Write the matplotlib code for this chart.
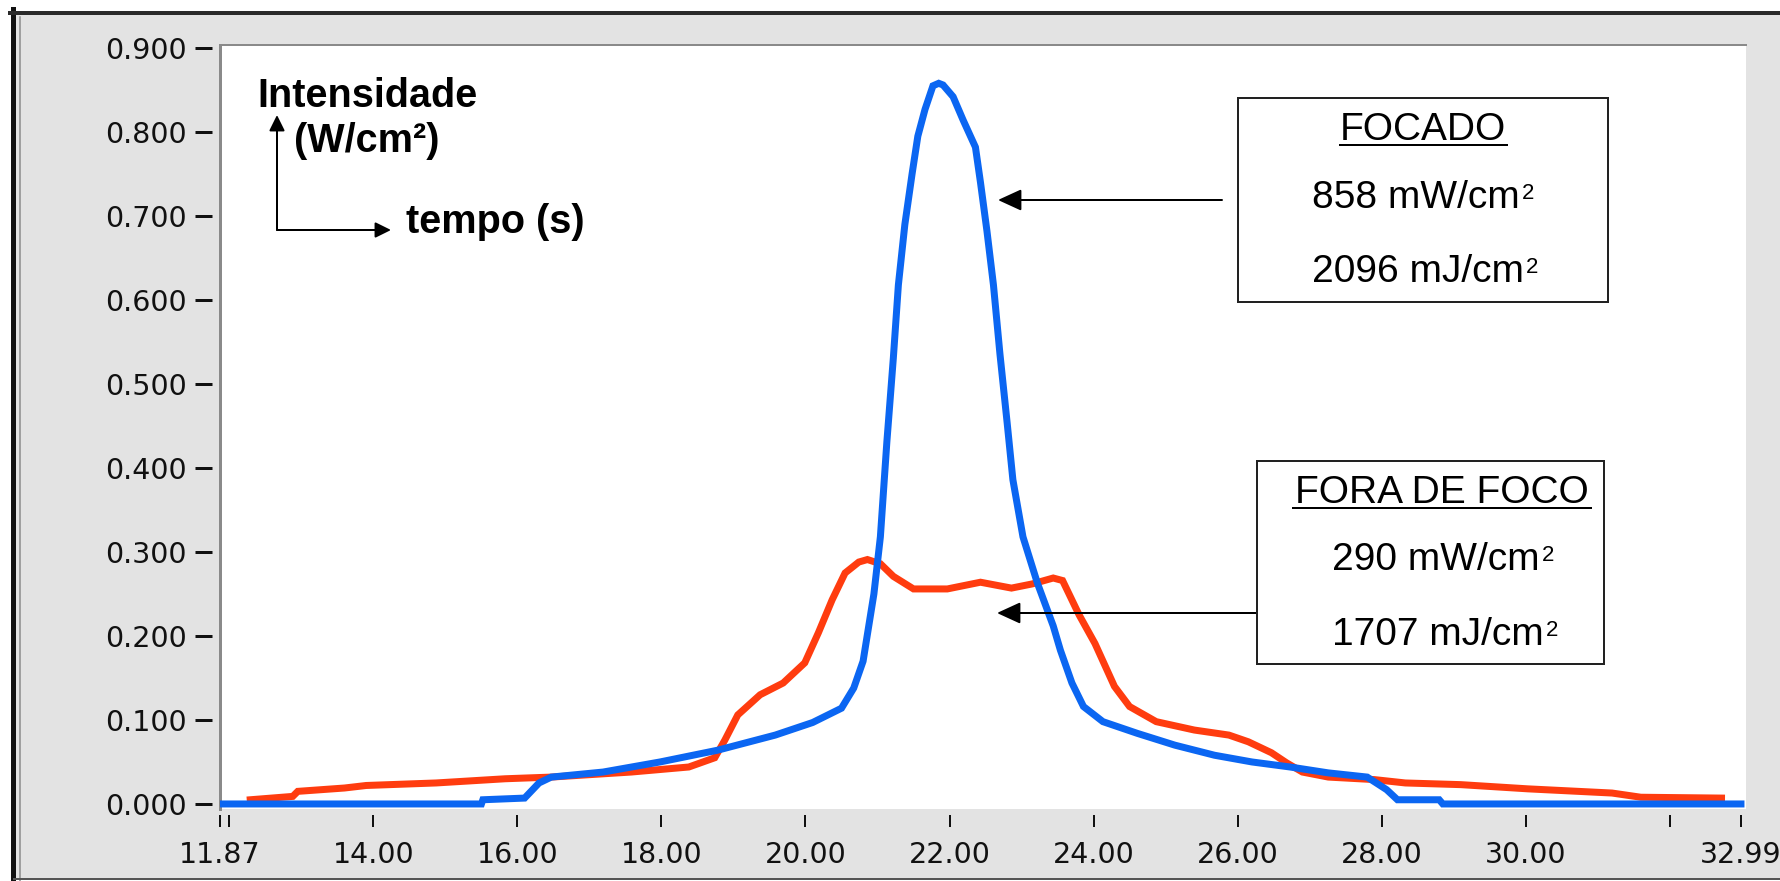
import matplotlib
matplotlib.use('Agg')
import matplotlib.pyplot as plt
from matplotlib.patches import Rectangle, FancyArrowPatch
from matplotlib.lines import Line2D

# ---------------- data ----------------
focado_x = [11.87, 15.50, 15.52, 16.10, 16.30, 16.47, 17.19, 17.98, 18.78, 19.58,
            20.10, 20.50, 20.67, 20.80, 20.95, 21.04, 21.13, 21.22, 21.29, 21.38,
            21.48, 21.56, 21.66, 21.77, 21.85, 21.91, 22.05, 22.19, 22.36, 22.43,
            22.52, 22.61, 22.70, 22.80, 22.88, 23.02, 23.22, 23.44, 23.54, 23.70,
            23.86, 24.13, 24.61, 25.13, 25.68, 26.20, 26.73, 27.26, 27.80, 28.07,
            28.22, 28.80, 28.85, 32.99]
focado_y = [0.000, 0.000, 0.005, 0.007, 0.025, 0.032, 0.038, 0.050, 0.064, 0.082,
            0.097, 0.114, 0.138, 0.170, 0.250, 0.318, 0.431, 0.531, 0.618, 0.690,
            0.750, 0.795, 0.827, 0.855, 0.858, 0.856, 0.842, 0.814, 0.782, 0.740,
            0.682, 0.618, 0.536, 0.454, 0.386, 0.318, 0.263, 0.212, 0.183, 0.144,
            0.116, 0.098, 0.084, 0.070, 0.058, 0.050, 0.044, 0.037, 0.032, 0.017,
            0.005, 0.005, 0.000, 0.000]

fora_x = [12.29, 12.88, 12.95, 13.60, 13.90, 14.87, 15.83, 16.47, 17.58, 18.38,
          18.74, 18.88, 19.06, 19.37, 19.69, 19.99, 20.18, 20.37, 20.55, 20.74,
          20.86, 21.04, 21.22, 21.50, 21.97, 22.43, 22.86, 23.15, 23.44, 23.57,
          23.80, 24.02, 24.29, 24.50, 24.87, 25.40, 25.88, 26.15, 26.47, 26.68,
          26.90, 27.26, 27.90, 28.33, 29.10, 30.03, 31.20, 31.60, 32.72]
fora_y = [0.005, 0.009, 0.015, 0.019, 0.022, 0.025, 0.030, 0.032, 0.038, 0.044,
          0.055, 0.076, 0.106, 0.130, 0.144, 0.168, 0.204, 0.243, 0.275, 0.288,
          0.291, 0.286, 0.271, 0.256, 0.256, 0.264, 0.257, 0.262, 0.269, 0.266,
          0.225, 0.191, 0.140, 0.116, 0.098, 0.088, 0.082, 0.074, 0.061, 0.049,
          0.038, 0.032, 0.029, 0.025, 0.023, 0.018, 0.013, 0.008, 0.007]

y_ticks = [0.0, 0.1, 0.2, 0.3, 0.4, 0.5, 0.6, 0.7, 0.8, 0.9]
y_ticklabels = ['0.000', '0.100', '0.200', '0.300', '0.400', '0.500',
                '0.600', '0.700', '0.800', '0.900']
x_ticks = [11.87, 12.0, 14.0, 16.0, 18.0, 20.0, 22.0, 24.0, 26.0, 28.0, 30.0, 32.0, 32.99]
x_ticklabels = ['11.87', '', '14.00', '16.00', '18.00', '20.00', '22.00', '24.00',
                '26.00', '28.00', '30.00', '', '32.99']

axis_note_y = 'Intensidade'
axis_note_unit = '(W/cm\u00b2)'
axis_note_x = 'tempo (s)'
focado_title = 'FOCADO'
focado_lines = ['858 mW/cm', '2096 mJ/cm']
fora_title = 'FORA DE FOCO'
fora_lines = ['290 mW/cm', '1707 mJ/cm']
sup_text = '2'

# ---------------- layout helpers ----------------
W, H = 1780, 881
PT = 0.72  # points per pixel at dpi 100
fig = plt.figure(figsize=(W / 100, H / 100), dpi=100)
fig.patch.set_facecolor('white')


def fx(p):
    return p / W


def fy(p):
    return 1 - p / H


# gray panel and outer frame
fig.add_artist(Rectangle((fx(14), fy(879)), fx(1780) - fx(14), fy(14) - fy(879),
                         transform=fig.transFigure, facecolor='#e3e3e3',
                         edgecolor='none', zorder=-5))
fig.add_artist(Line2D([fx(13), fx(13)], [fy(9), fy(881)], transform=fig.transFigure,
                      color='#111111', lw=5 * PT, zorder=-4))
fig.add_artist(Line2D([fx(20), fx(20)], [fy(17), fy(881)], transform=fig.transFigure,
                      color='#8a8a8a', lw=1.5 * PT, zorder=-4))
fig.add_artist(Line2D([fx(10), 1], [fy(13), fy(13)], transform=fig.transFigure,
                      color='#2a2a2a', lw=4 * PT, zorder=-4))
fig.add_artist(Line2D([fx(14), 1], [fy(879), fy(879)], transform=fig.transFigure,
                      color='#555555', lw=2 * PT, zorder=-4))

# ---------------- axes ----------------
ax = fig.add_axes([fx(220), fy(809), fx(1746) - fx(220), fy(45) - fy(809)])
ax.set_facecolor('white')
ax.set_xlim(11.87, 33.06)
ax.set_ylim(-0.006, 0.9036)
for s in ax.spines.values():
    s.set_visible(False)
ax.spines['left'].set_position(('outward', 8 * PT))
ax.spines['bottom'].set_position(('outward', 6 * PT))

ax.set_yticks(y_ticks)
ax.set_yticklabels(y_ticklabels)
ax.set_xticks(x_ticks)
ax.set_xticklabels(x_ticklabels)
ax.tick_params(axis='y', length=17 * PT, width=3 * PT, pad=8 * PT, labelsize=20.5,
               colors='#111111')
ax.tick_params(axis='x', length=12 * PT, width=2 * PT, pad=14 * PT, labelsize=20.5,
               colors='#111111')
for lab in ax.get_xticklabels() + ax.get_yticklabels():
    lab.set_fontfamily('DejaVu Sans')

# plot frame lines (left and top, gray)
ax.plot([0, 0], [0, 1], transform=ax.transAxes, color='#8a8a8a', lw=3 * PT,
        clip_on=False, zorder=1)
ax.plot([0, 1], [1, 1], transform=ax.transAxes, color='#8a8a8a', lw=2 * PT,
        clip_on=False, zorder=1)

# curves
ax.plot(fora_x, fora_y, color='#ff3c0f', lw=7 * PT, solid_joinstyle='miter', zorder=3)
ax.plot(focado_x, focado_y, color='#0b66f2', lw=7 * PT, solid_joinstyle='miter', zorder=4)

# ---------------- annotations (figure pixel positions) ----------------
bold = dict(family='Liberation Sans', weight='bold', size=28.5, color='black')
fig.text(fx(257), fy(107), axis_note_y, ha='left', va='baseline', **bold)
fig.text(fx(294), fy(152), axis_note_unit, ha='left', va='baseline', **bold)
fig.text(fx(406), fy(233), axis_note_x, ha='left', va='baseline', **bold)

small_arrow = dict(arrowstyle='-|>,head_length=0.95,head_width=0.47',
                   mutation_scale=10, lw=2 * PT, color='black',
                   shrinkA=0, shrinkB=0)
fig.add_artist(FancyArrowPatch((fx(277), fy(230)), (fx(277), fy(115)),
                               transform=fig.transFigure, **small_arrow))
fig.add_artist(FancyArrowPatch((fx(277), fy(230)), (fx(391), fy(230)),
                               transform=fig.transFigure, **small_arrow))

big_arrow = dict(arrowstyle='-|>,head_length=0.72,head_width=0.33',
                 mutation_scale=20, lw=2 * PT, color='black',
                 shrinkA=0, shrinkB=0)
fig.add_artist(FancyArrowPatch((fx(1222), fy(200)), (fx(998), fy(200)),
                               transform=fig.transFigure, **big_arrow))
fig.add_artist(FancyArrowPatch((fx(1257), fy(613)), (fx(997), fy(613)),
                               transform=fig.transFigure, **big_arrow))

# boxes
for (x0, y0, x1, y1) in [(1238, 98, 1608, 302), (1257, 461, 1604, 664)]:
    fig.add_artist(Rectangle((fx(x0), fy(y1)), fx(x1) - fx(x0), fy(y0) - fy(y1),
                             transform=fig.transFigure, facecolor='white',
                             edgecolor='#222222', lw=2 * PT, zorder=5))

reg = dict(family='Liberation Sans', size=28, color='black', zorder=6)
fig.text(fx(1423), fy(140), focado_title, ha='center', va='baseline', **reg)
fig.add_artist(Line2D([fx(1340), fx(1507)], [fy(145), fy(145)], transform=fig.transFigure,
                      color='black', lw=2 * PT, zorder=6))
fig.text(fx(1442), fy(503), fora_title, ha='center', va='baseline', **reg)
fig.add_artist(Line2D([fx(1293), fx(1591)], [fy(508), fy(508)], transform=fig.transFigure,
                      color='black', lw=2 * PT, zorder=6))

line_specs = [(focado_lines[0], 1312, 208), (focado_lines[1], 1312, 282),
              (fora_lines[0], 1332, 570), (fora_lines[1], 1332, 645)]
renderer = fig.canvas.get_renderer()
for txt, xl, yb in line_specs:
    t = fig.text(fx(xl), fy(yb), txt, ha='left', va='baseline', **reg)
    bb = t.get_window_extent(renderer=renderer)
    x_end = bb.x1
    fig.text(fx(x_end + 2), fy(yb - 9), sup_text, ha='left', va='baseline',
             family='Liberation Sans', size=16, color='black', zorder=6)

fig.savefig('out.png', dpi=100)
